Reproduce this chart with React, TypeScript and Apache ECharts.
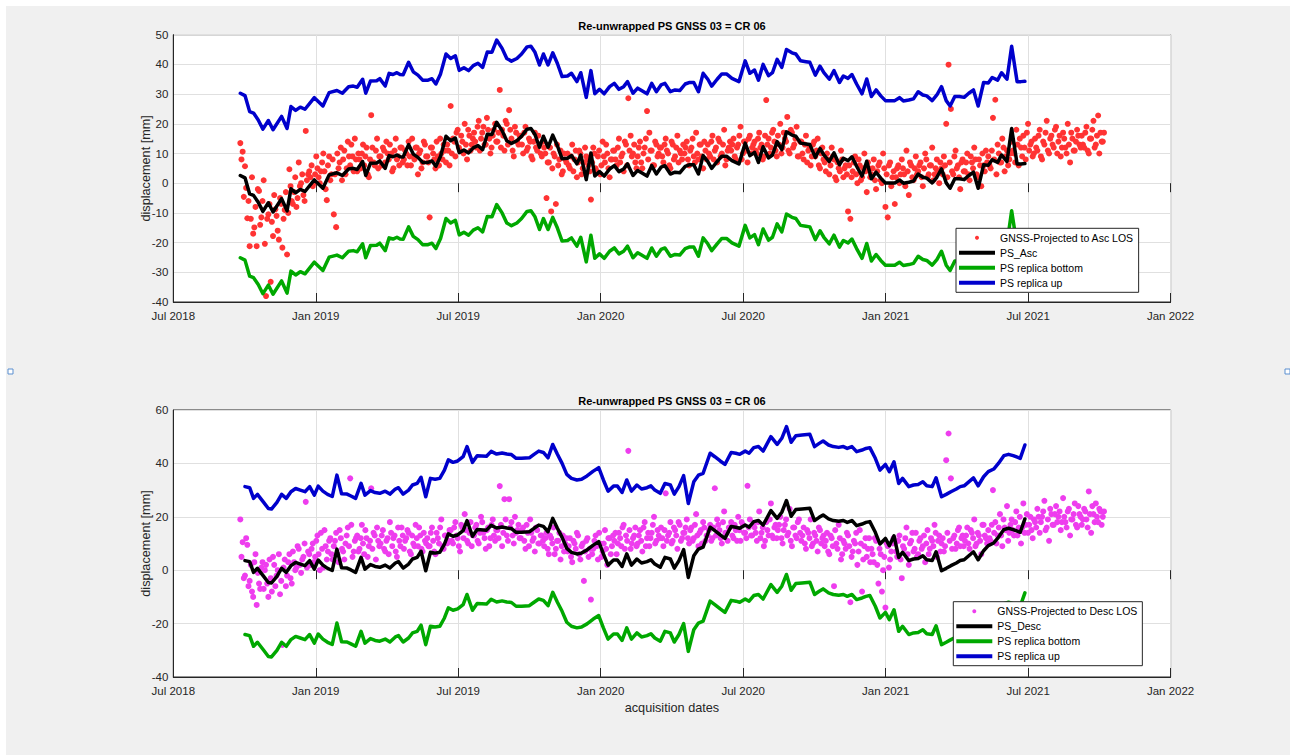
import React, { useEffect, useRef } from "react";
import * as echarts from "echarts";

// ---------- data ----------
// x values are days since 1 Jul 2018; the axis runs to 1 Jan 2022 (1280 days)
const X_SPAN_DAYS = 1280;
const xTickLabels = ["Jul 2018", "Jan 2019", "Jul 2019", "Jan 2020", "Jul 2020", "Jan 2021", "Jul 2021", "Jan 2022"];
// half of the C-band wavelength: the two replicas are PS ± this ambiguity
const HALF_WAVELENGTH_MM = 27.7;

// PS ascending: [day, displacement mm]
const psAsc: [number, number][] = [
  [86, 2.6], [92, 1.8], [98, -3.6], [103, -4.1], [109, -6.4], [115, -9.5], [122, -6.6], [128, -9.7], [139, -5.2], [146, -9.3],
  [151, -1.9], [157, -3.2], [163, -2.1], [169, -2.8], [181, 1.1], [192, -1.7], [200, 2.8], [210, 3.5], [217, 2.6], [225, 4.8],
  [231, 5.0], [236, 4.6], [243, 7.3], [247, 2.6], [253, 6.7], [261, 6.8], [265, 7.5], [272, 5.0], [277, 9.3], [282, 8.9],
  [287, 9.5], [291, 8.9], [295, 8.8], [302, 13.0], [308, 9.8], [314, 8.7], [320, 7.0], [327, 7.0], [332, 7.5], [337, 5.7],
  [343, 9.1], [350, 15.8], [356, 14.3], [362, 15.2], [367, 10.3], [373, 11.2], [379, 10.2], [385, 11.9], [391, 12.7], [397, 11.3],
  [403, 16.5], [409, 16.4], [415, 20.5], [422, 17.7], [428, 14.3], [434, 13.4], [441, 14.3], [447, 15.8], [454, 18.2], [459, 18.4],
  [464, 16.5], [470, 12.1], [475, 15.8], [481, 12.1], [487, 16.2], [493, 12.6], [499, 8.2], [506, 8.4], [511, 9.3], [518, 6.5],
  [523, 9.5], [530, 1.2], [536, 10.2], [541, 2.4], [547, 3.9], [553, 2.4], [560, 4.8], [566, 5.9], [572, 3.9], [578, 4.8],
  [583, 6.5], [590, 2.6], [596, 4.3], [601, 3.5], [608, 2.4], [614, 5.9], [620, 3.1], [626, 5.4], [631, 5.9], [638, 3.1],
  [644, 3.7], [650, 3.5], [657, 5.7], [662, 6.2], [668, 6.2], [674, 3.1], [680, 9.3], [686, 7.3], [691, 5.0], [698, 7.3],
  [704, 9.1], [710, 9.1], [717, 7.6], [726, 6.5], [734, 13.5], [740, 9.3], [746, 10.4], [751, 7.0], [757, 12.3], [764, 8.5],
  [769, 9.5], [775, 14.0], [781, 11.3], [787, 17.3], [794, 16.2], [799, 15.8], [805, 13.5], [812, 13.2], [817, 13.0], [824, 8.7],
  [830, 11.7], [835, 9.5], [842, 7.3], [848, 10.2], [855, 6.2], [860, 8.4], [866, 7.6], [871, 8.9], [877, 5.7], [884, 2.4],
  [890, 7.4], [896, 1.5], [902, 3.7], [908, 1.7], [914, 0.1], [920, 0.1], [926, 0.1], [932, 1.1], [937, 0.0], [944, 0.3],
  [950, 0.7], [956, 3.1], [962, 2.0], [967, 1.7], [974, 0.1], [980, 2.0], [986, 4.8], [992, 0.1], [997, -1.7], [1003, 1.5],
  [1009, 1.5], [1015, 1.2], [1021, 2.6], [1027, 3.7], [1033, -1.7], [1040, 6.2], [1046, 6.0], [1051, 7.9], [1058, 7.0], [1063, 9.5],
  [1070, 7.3], [1076, 18.4], [1083, 6.5], [1088, 6.5], [1093, 6.6],
];

// PS descending: [day, displacement mm]
const psDesc: [number, number][] = [
  [92, 3.6], [98, 3.2], [103, -0.8], [108, 0.7], [116, -2.3], [122, -4.6], [126, -4.8], [133, -2.3], [139, 0.7], [145, -0.8],
  [151, 1.7], [157, 2.9], [163, 2.3], [169, 1.7], [175, 3.6], [181, 0.4], [186, 3.8], [192, 1.9], [198, 0.7], [204, -0.1],
  [210, 7.9], [216, 0.9], [223, 0.8], [228, 0.1], [234, -0.8], [241, 4.8], [246, 0.4], [253, 2.1], [259, 1.4], [265, 1.1],
  [272, 1.9], [278, 0.8], [285, 2.7], [289, 3.2], [295, 0.8], [302, 2.3], [307, 4.2], [313, 4.8], [318, 7.1], [324, -0.2],
  [330, 6.7], [336, 6.4], [342, 6.7], [348, 9.8], [353, 13.6], [359, 12.7], [365, 13.2], [372, 14.8], [377, 18.6], [384, 12.7],
  [390, 15.2], [402, 15.0], [408, 16.8], [415, 15.8], [422, 16.2], [428, 15.8], [434, 15.6], [440, 14.2], [447, 14.2], [457, 14.4],
  [463, 15.7], [469, 16.9], [475, 16.4], [481, 14.4], [487, 19.4], [493, 15.7], [499, 12.3], [505, 8.2], [511, 6.7], [518, 6.1],
  [524, 6.4], [531, 7.6], [539, 9.4], [546, 10.7], [552, 6.1], [558, 1.9], [565, 3.8], [570, 3.8], [576, 1.4], [582, 6.1],
  [588, 1.9], [595, 4.2], [601, 2.7], [608, 3.2], [613, 3.9], [618, 2.3], [625, 1.1], [631, 4.8], [638, 4.2], [643, 0.8],
  [649, 3.6], [655, 7.7], [661, -2.7], [668, 5.4], [674, 7.9], [680, 8.6], [689, 16.1], [695, 14.8], [702, 13.2], [708, 11.9],
  [716, 16.4], [722, 16.1], [727, 15.7], [734, 16.9], [739, 16.1], [745, 18.2], [751, 18.6], [757, 16.9], [767, 22.3], [775, 19.4],
  [781, 21.7], [787, 26.1], [793, 20.2], [799, 22.7], [807, 22.9], [817, 23.2], [823, 18.6], [829, 19.8], [834, 20.7], [841, 19.2],
  [847, 18.6], [854, 18.3], [860, 18.6], [865, 17.9], [871, 18.6], [877, 16.7], [884, 17.3], [889, 17.9], [894, 18.2], [901, 14.2],
  [907, 9.8], [914, 11.9], [919, 9.2], [925, 12.9], [931, 4.8], [936, 6.7], [944, 3.6], [950, 4.2], [956, 4.4], [962, 5.4],
  [967, 3.9], [974, 3.6], [979, 6.9], [986, -0.2], [992, 0.7], [998, 1.7], [1005, 2.7], [1010, 3.6], [1015, 3.9], [1021, 5.4],
  [1027, 6.9], [1033, 3.9], [1040, 7.3], [1046, 9.2], [1053, 10.2], [1059, 12.3], [1066, 15.2], [1072, 15.7], [1078, 15.2], [1087, 14.2],
  [1093, 19.2],
];

// GNSS solutions projected to LOS. Two interleaved lists read off the cloud:
// list A at days 86, 89, 92 …; list B half-way between (87.5, 90.5, …)
const GNSS_FIRST_DAY = 86;
const GNSS_STEP_DAYS = 3;
const gnssAscA = [
  13.5, 10.6, 5.7, -11.8, -21.2, 2, -14.9, -21.2, -2.6, -11.5,
  1, -38, -10.5, -33.2, -17.8, -8.8, -16, -5, -21.7, -9,
  -24, 4.7, -6, -3, -8, 7, 0, -4, 17.6, 3,
  2, -1, 3, 5, 0, 7, 4, -5.7, 9, 3,
  -10.5, -14.8, 5, 12, 8, 3, 14, 6, 9, 15,
  4, 8, 10, 6, 12, 2, 22.9, 7, 11, 5,
  9, 12, 7, 10, 13, 4, 11, 8, 6, 12,
  8, 10, 14, 6, 9, 12, 3, 11, 7, 13,
  9, -11.5, 12, 8, 14, 6, 10, 13, 7, 11,
  26, 15, 9, 18, 11, 14, 20, 8, 16, 13,
  17, 12, 21, 15, 19, 13, 18, 10, 16, 20,
  14, 31.4, 18, 11, 20, 24.6, 15, 9, 17, 13,
  16, 10, 19, 12, 14, 8, 17, 11, 13, 9,
  12, -5, 7, -9.5, 10, -7, 6, 11, 4, 8,
  10, 5, 13, 8, 2, 11, 3, 7, 9, 6,
  -5.5, 12, 5, 9, 3, 14, 7, 10, 2, 8,
  11, 6, 15, 9, 4, 13, 28.6, 16, 10, 7,
  9, 14, 5, 12, 24.3, 17, 11, 6, 13, 10,
  12, 7, 15, 10, 5, 13, 9, 16, 11, 8,
  10, 14, 6, 12, 9, 17, 8, 13, 5, 11,
  13, 9, 16, 11, 7, 14, 10, 18, 8, 12,
  11, 15, 8, 13, 19, 10, 14, 7, 16, 12,
  14, 10, 17, 13, 9, 28, 15, 12, 18, 11,
  16, 20, 12, 15, 22.3, 10, 17, 13, 19, 9,
  14, 8, 16, 11, 6, 13, 9, 15, 5, 12,
  7, 10, 3, 12, 8, 1, 5, 11, 2, 6,
  -9.5, -12, 4, 9, 0, 6, 2, 10, -3, 5,
  3, 8, -2, 6, 1, 10, -8, -11.5, 7, 2,
  -7, 5, 0, 8, 3, 11, -4, 6, 1, 9,
  4, 7, -1, 10, 2, 6, 12, 3, 8, 0,
  5, 9, 20, 39.9, 25, 3, 11, 6, -2, 8,
  4, 10, 1, 7, 12, 3, 8, -1, 6, 11,
  9, 5, 22, 28.1, 13, 7, 15, 4, 11, 8,
  14, 10, 18, 6, 12, 16, 8, 20, 13, 9,
  15, 11, 18, 8, 13, 21, 10, 16, 12, 19,
  14, 9, 17, 12, 20, 7, 15, 11, 18, 13,
  16, 12, 19, 10, 15, 21, 13, 22.8, 17, 14,
];
const gnssAscB = [
  8, -4.6, -1.6, -6, -12, -17, -8, -2, -14, -6,
  -20.4, -12, -7, -13, -4, -11, -19, -7, -12, -3,
  -10, -1, -7, 2, -5, -1, 3, -6, 1, 4,
  6, 0, 9, 2, 4, 10, -2, 6, 1, 8,
  3, 10, 7, 1, 11, 5, 9, 13, 4, 8,
  10, 5, 13, 9, 3, 8, 12, 6, 15, 9,
  6, 11, 14, 8, 10, 5, 15, 9, 12, 7,
  11, 6, 9, 15, 8, 12, 10, 5, 14, 9,
  7, 12, 10, 5, 9, 15, 8, 11, 13, 6,
  10, 14, 17, 12, 16, 10, 13, 18, 11, 15,
  14, 19, 11, 17, 13, 22, 15, 12, 18, 14,
  17, 12, 16, 21, 13, 18, 11, 19, 14, 16,
  13, 17, 11, 15, 9, 14, 12, 16, 10, 14,
  10, 7, 12, 5, 9, 13, 8, 3, 10, 7,
  6, 9, 4, 11, 7, 10, 5, 12, 8, 4,
  7, 10, 4, 11, 6, 9, 13, 5, 8, 11,
  8, 12, 7, 10, 14, 6, 11, 9, 13, 5,
  12, 7, 10, 15, 8, 11, 6, 14, 9, 12,
  9, 13, 11, 6, 14, 8, 12, 7, 10, 13,
  12, 8, 11, 15, 7, 10, 13, 9, 14, 8,
  10, 14, 8, 12, 15, 9, 13, 6, 11, 14,
  13, 9, 12, 16, 8, 14, 11, 15, 10, 13,
  11, 15, 12, 8, 16, 13, 10, 17, 14, 9,
  13, 10, 17, 14, 11, 18, 12, 15, 9, 14,
  10, 13, 7, 12, 9, 14, 11, 6, 10, 8,
  4, 8, 6, 9, 2, 7, 4, 8, 5, 3,
  6, 2, 7, 3, 8, 1, 5, 4, 7, 2,
  5, 1, 4, 7, 0, 5, 3, 6, -1, 4,
  2, 6, 3, 5, -1, 4, 7, 2, 5, 3,
  6, 2, 5, 8, 3, 6, 1, 5, 4, 7,
  3, 6, 2, 7, 4, 9, 5, 2, 7, 4,
  7, 3, 9, 5, 8, 2, 6, 10, 4, 7,
  6, 11, 8, 3, 10, 7, 12, 9, 6, 10,
  11, 7, 13, 15, 9, 12, 17, 11, 14, 10,
  12, 16, 9, 14, 17, 11, 15, 13, 18, 10,
  16, 12, 15, 10, 13, 17, 11, 14, 16, 12,
  13, 17, 11, 15, 18, 12, 16, 10, 14, 17,
];
const gnssDescA = [
  19, 10.5, -2, 9.5, -4, -8, 3, -13, -5, 1,
  -7, 2, -10, -3, 5, -6, 0, -9, -28, 4,
  -2, 6, -5, 3, 1, 8, -1, 5, 25.6, 7,
  2, 10, 5, 13, 0, 8, 15, 4, 11, 6,
  9, 14, 3, 12, 7, 10, 16, 34.4, 5, 11,
  13, 8, 17, 6, 12, 9, 30.7, 14, 4, 11,
  10, 15, 7, 12, 18, 9, 13, 5, 11, 16,
  8, 12, 14, 6, 10, 17, 9, 13, 7, 11,
  12, 9, 16, 7, 14, 10, 19, 8, 13, 11,
  15, 10, 18, 12, 7, 16, 21, 11, 14, 9,
  13, 17, 10, 20, 14, 8, 16, 12, 19, 11,
  15, 31.5, 9, 26.6, 13, 26.6, 18, 10, 14, 17,
  12, 16, 8, 14, 19, 11, 7, 15, 10, 13,
  9, 14, 6, 12, 16, 8, 11, 4, 13, 10,
  7, 12, 3, 10, 14, 6, 9, -4, 11, 5,
  -11, 8, 13, 4, 10, 7, 15, 2, 12, 9,
  11, 6, 14, 9, 17, 13, 44.7, 8, 12, 16,
  10, 15, 7, 18, 12, 9, 14, 20, 11, 13,
  16, 9, 28.8, 13, 18, 11, 15, 8, 17, 12,
  14, 19, 10, 16, 12, 21, 9, 15, 18, 11,
  13, 17, 12, 30.7, 19, 15, 10, 22, 14, 16,
  18, 12, 15, 20, 11, 17, 14, 31.6, 19, 13,
  16, 11, 22, 14, 9, 18, 13, 25, 12, 17,
  15, 20, 10, 17, 13, 23, 9, 16, 12, 19,
  11, 16, 8, 14, 19, 10, 13, 7, 15, 12,
  9, 14, 6, 12, -6, 10, 17, 4, 11, 8,
  13, -12, 7, 10, 2, 15, -8, 9, 5, 12,
  8, 3, 11, -5, 6, 0, -14, 9, 4, 10,
  10, 5, 13, -3, 8, 16, 2, 11, 7, 14,
  6, 12, 9, 3, 15, 8, 11, 17, 5, 13,
  10, 7, 41.2, 51.2, 34.4, 12, 8, 15, 9, 13,
  11, 16, 8, 14, 19, 10, 13, 6, 17, 12,
  15, 11, 30, 18, 13, 21, 9, 16, 24, 14,
  19, 13, 22, 16, 10, 25, 17, 14, 20, 12,
  18, 23, 14, 20, 26, 16, 11, 21, 17, 24,
  20, 15, 27, 18, 22, 13, 19, 25, 16, 21,
  17, 23, 19, 29.5, 14, 21, 25, 18, 22, 20,
];
const gnssDescB = [
  5, -3, 12, -6, 2, -10, 6, -1, -7, 3,
  0, -5, 4, -8, 2, -2, 6, -4, 1, -6,
  3, -3, 7, 0, 9, 2, 4, 10, 1, 6,
  8, 3, 11, 6, 14, 1, 9, 7, 12, 4,
  11, 6, 15, 8, 4, 13, 9, 17, 7, 12,
  7, 12, 10, 15, 5, 11, 8, 13, 16, 9,
  13, 8, 11, 6, 14, 12, 7, 16, 9, 13,
  11, 15, 7, 13, 9, 12, 16, 8, 14, 10,
  9, 14, 11, 6, 12, 16, 9, 13, 10, 15,
  11, 16, 13, 9, 17, 12, 15, 10, 18, 13,
  16, 11, 14, 18, 12, 15, 9, 17, 13, 15,
  12, 17, 14, 19, 11, 16, 13, 20, 15, 12,
  15, 11, 17, 9, 14, 12, 16, 10, 13, 11,
  12, 8, 13, 10, 6, 11, 14, 9, 7, 12,
  9, 5, 11, 8, 13, 4, 10, 7, 12, 8,
  6, 11, 9, 14, 5, 10, 8, 12, 6, 13,
  14, 10, 12, 16, 8, 11, 15, 10, 13, 9,
  13, 11, 16, 9, 14, 12, 17, 10, 15, 12,
  12, 15, 11, 14, 10, 16, 13, 18, 11, 14,
  16, 12, 15, 11, 17, 13, 14, 10, 16, 13,
  15, 11, 16, 13, 17, 12, 18, 14, 11, 16,
  13, 17, 11, 15, 18, 14, 12, 16, 13, 17,
  14, 18, 12, 16, 11, 15, 19, 13, 16, 12,
  17, 12, 15, 19, 14, 11, 16, 13, 18, 14,
  13, 10, 15, 12, 9, 14, 11, 16, 10, 13,
  11, 7, 13, 9, 15, 8, 12, 6, 10, 14,
  9, 5, 11, 14, 7, 10, 4, 12, 8, 3,
  6, 12, 2, 8, -8, 5, 10, 1, 7, 12,
  7, 11, 4, 9, 12, 6, 10, 14, 8, 5,
  11, 8, 13, 10, 6, 12, 9, 14, 11, 7,
  12, 9, 14, 11, 8, 13, 10, 16, 12, 9,
  13, 10, 15, 12, 9, 14, 11, 17, 13, 10,
  12, 17, 14, 10, 16, 13, 19, 15, 11, 17,
  15, 18, 13, 20, 16, 14, 21, 17, 15, 19,
  16, 20, 18, 22, 15, 19, 23, 17, 21, 18,
  22, 18, 20, 16, 23, 19, 21, 17, 24, 20,
  19, 22, 16, 21, 24, 18, 20, 23, 17, 22,
];

const titleText = "Re-unwrapped PS GNSS 03 = CR 06";
const yAxisName = "displacement [mm]";
const xAxisName = "acquisition dates";

// ---------- styling ----------
const FONT = "'Liberation Sans', Arial, Helvetica, sans-serif";
const TEXT = "#262626";
const AXIS = "#262626";
const GRIDLINE = "#e0e0e0";
const RED = "#ff3333";
const MAGENTA = "#ee3dee";
const BLACK = "#000000";
const GREEN = "#00a800";
const BLUE = "#0000cc";
const OFF = 6; // chart div sits 6px from the page corner

const PLOT_LEFT = 173.3 - OFF;
const PLOT_W = 997.3;

const TICK_STEP = X_SPAN_DAYS / 7;

function xAxesFor(gridIndex: number, withName: boolean) {
  const base = { gridIndex, type: "value" as const, min: 0, max: X_SPAN_DAYS, interval: TICK_STEP };
  return [
    {
      ...base,
      position: "bottom",
      axisLine: { show: true, onZero: false, lineStyle: { color: AXIS, width: 1 } },
      axisTick: { show: true, inside: true, length: 9, lineStyle: { color: AXIS, width: 1 } },
      axisLabel: {
        show: true,
        margin: 8,
        color: TEXT,
        fontSize: 11.5,
        fontFamily: FONT,
        formatter: (v: number) => xTickLabels[Math.round(v / TICK_STEP)] ?? "",
      },
      splitLine: { show: true, lineStyle: { color: GRIDLINE, width: 1 } },
      name: withName ? xAxisName : "",
      nameLocation: "middle",
      nameGap: 24,
      nameMoveOverlap: false,
      nameTextStyle: { color: TEXT, fontSize: 12.7, fontFamily: FONT },
    },
    {
      ...base,
      position: "top",
      axisLine: { show: false },
      axisTick: { show: true, inside: true, length: 9, lineStyle: { color: AXIS, width: 1 } },
      axisLabel: { show: false },
      splitLine: { show: false },
    },
  ];
}

function yAxisFor(gridIndex: number, min: number, max: number, interval: number) {
  return {
    gridIndex,
    type: "value",
    min,
    max,
    interval,
    axisLine: { show: true, onZero: false, lineStyle: { color: AXIS, width: 1 } },
    axisTick: { show: false },
    axisLabel: { margin: 5, color: TEXT, fontSize: 11.5, fontFamily: FONT },
    splitLine: { show: true, lineStyle: { color: GRIDLINE, width: 1 } },
    name: yAxisName,
    nameLocation: "middle",
    nameGap: 21,
    nameMoveOverlap: false,
    nameTextStyle: { color: TEXT, fontSize: 12.7, fontFamily: FONT },
  };
}

function gnssPoints(a: number[], b: number[]) {
  const pts: number[][] = [];
  a.forEach((v, i) => {
    pts.push([GNSS_FIRST_DAY + i * GNSS_STEP_DAYS, v]);
    if (i < b.length) pts.push([GNSS_FIRST_DAY + i * GNSS_STEP_DAYS + GNSS_STEP_DAYS / 2, b[i]]);
  });
  return pts;
}

function psSeries(name: string, data: number[][], color: string, xi: number, yi: number) {
  return {
    name,
    type: "line",
    xAxisIndex: xi,
    yAxisIndex: yi,
    data,
    symbol: "none",
    showSymbol: false,
    lineStyle: { color, width: 3.5, join: "round", cap: "round" },
    itemStyle: { color },
    emphasis: { disabled: true },
  };
}

function legendFor(left: number, top: number, names: string[]) {
  return {
    orient: "vertical",
    left,
    top,
    itemWidth: 36,
    itemHeight: 4,
    itemGap: 1,
    padding: [2.5, 5, 2.5, 3],
    backgroundColor: "#ffffff",
    borderColor: AXIS,
    borderWidth: 1,
    selectedMode: false,
    textStyle: { color: "#000", fontSize: 10.5, fontFamily: FONT, lineHeight: 14 },
    data: names.map((n, i) => ({ name: n, icon: i === 0 ? "circle" : "rect" })),
  };
}

function buildOption() {
  const topUp = psAsc.map(([d, v]) => [d, v + HALF_WAVELENGTH_MM]);
  const topDown = psAsc.map(([d, v]) => [d, v - HALF_WAVELENGTH_MM]);
  const botUp = psDesc.map(([d, v]) => [d, v + HALF_WAVELENGTH_MM]);
  const botDown = psDesc.map(([d, v]) => [d, v - HALF_WAVELENGTH_MM]);

  return {
    animation: false,
    backgroundColor: "#f0f0f0",
    textStyle: { fontFamily: FONT },
    grid: [
      { left: PLOT_LEFT, top: 34.7 - OFF, width: PLOT_W, height: 267.3, show: true, backgroundColor: "#ffffff", borderColor: AXIS, borderWidth: 1 },
      { left: PLOT_LEFT, top: 410 - OFF, width: PLOT_W, height: 267, show: true, backgroundColor: "#ffffff", borderColor: AXIS, borderWidth: 1 },
    ],
    xAxis: [...xAxesFor(0, false), ...xAxesFor(1, true)],
    yAxis: [yAxisFor(0, -40, 50, 10), yAxisFor(1, -40, 60, 20)],
    legend: [
      legendFor(956 - OFF, 228.3 - OFF, ["GNSS-Projected to Asc LOS", "PS_Asc", "PS replica bottom", "PS replica up"]),
      legendFor(953.3 - OFF, 601.7 - OFF, ["GNSS-Projected to Desc LOS", "PS_Desc", "PS replica bottom", "PS replica up"]),
    ],
    graphic: [
      {
        type: "text",
        x: PLOT_LEFT + PLOT_W / 2,
        y: 25.5 - OFF,
        style: { text: titleText, fill: "#000", font: `bold 11px ${FONT}`, textAlign: "center", textVerticalAlign: "middle" },
      },
      {
        type: "text",
        x: PLOT_LEFT + PLOT_W / 2,
        y: 400.5 - OFF,
        style: { text: titleText, fill: "#000", font: `bold 11px ${FONT}`, textAlign: "center", textVerticalAlign: "middle" },
      },
      { type: "rect", shape: { x: 8 - OFF, y: 369 - OFF, width: 5, height: 5 }, style: { fill: "#ffffff", stroke: "#5a8fd0", lineWidth: 1 } },
      { type: "rect", shape: { x: 1285 - OFF, y: 369 - OFF, width: 5, height: 5 }, style: { fill: "#ffffff", stroke: "#5a8fd0", lineWidth: 1 } },
    ],
    series: [
      {
        name: "GNSS-Projected to Asc LOS",
        type: "scatter",
        xAxisIndex: 0,
        yAxisIndex: 0,
        data: gnssPoints(gnssAscA, gnssAscB),
        symbol: "circle",
        symbolSize: 6,
        itemStyle: { color: RED, opacity: 1 },
        emphasis: { disabled: true },
      },
      psSeries("PS_Asc", psAsc, BLACK, 0, 0),
      psSeries("PS replica bottom", topDown, GREEN, 0, 0),
      psSeries("PS replica up", topUp, BLUE, 0, 0),
      {
        name: "GNSS-Projected to Desc LOS",
        type: "scatter",
        xAxisIndex: 2,
        yAxisIndex: 1,
        data: gnssPoints(gnssDescA, gnssDescB),
        symbol: "circle",
        symbolSize: 6,
        itemStyle: { color: MAGENTA, opacity: 1 },
        emphasis: { disabled: true },
      },
      psSeries("PS_Desc", psDesc, BLACK, 2, 1),
      psSeries("PS replica bottom", botDown, GREEN, 2, 1),
      psSeries("PS replica up", botUp, BLUE, 2, 1),
    ],
  };
}

export default function App() {
  const ref = useRef<HTMLDivElement>(null);
  useEffect(() => {
    document.body.style.margin = "0";
    if (!ref.current) return;
    const chart = echarts.init(ref.current, null, { renderer: "svg" });
    chart.setOption(buildOption() as any);
    return () => chart.dispose();
  }, []);
  return (
    <div style={{ position: "relative", width: 1290, height: 755, background: "#ffffff" }}>
      <div ref={ref} style={{ position: "absolute", left: OFF, top: OFF, width: 1290 - OFF, height: 755 - OFF }} />
    </div>
  );
}
